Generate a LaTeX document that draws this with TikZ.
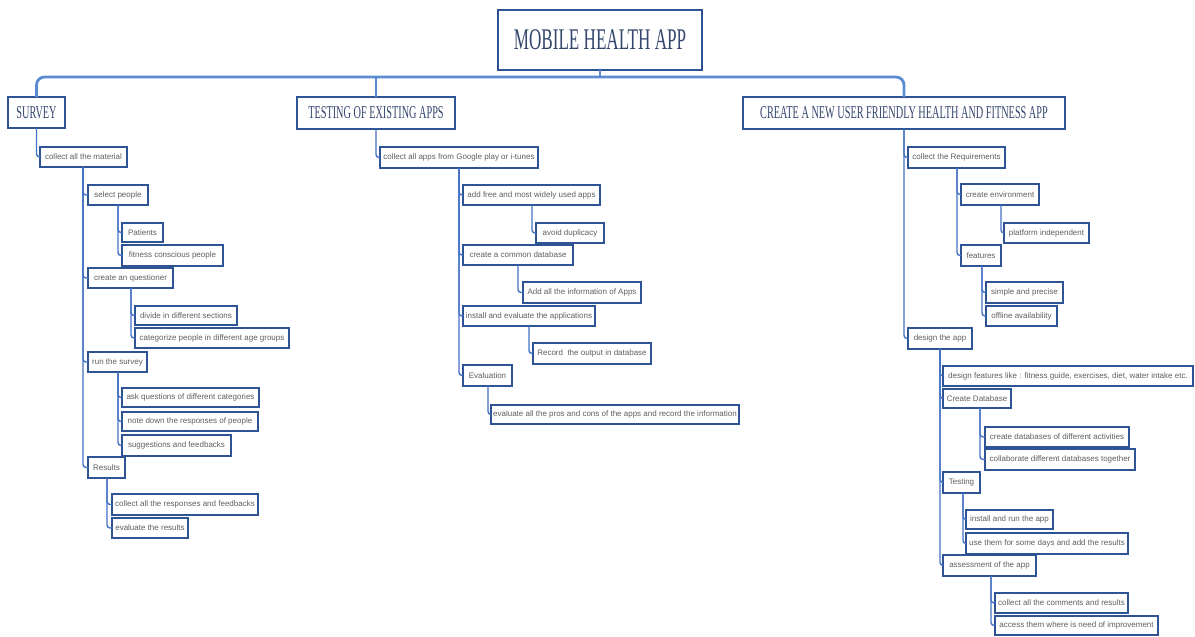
\documentclass[tikz,border=0pt]{standalone}
\usepackage{fontspec}
\setmainfont{Liberation Sans}
\newfontfamily\titlefont[FakeStretch=0.57]{Liberation Serif}
\newfontfamily\leaffont{Liberation Sans}
\definecolor{boxc}{RGB}{47,84,150}
\definecolor{linec}{RGB}{68,114,196}
\definecolor{busc}{RGB}{91,139,208}
\definecolor{titlec}{RGB}{52,70,110}
\definecolor{leafc}{RGB}{95,95,95}
\begin{document}
\begin{tikzpicture}[x=0.5pt,y=-0.5pt,
  sz/.style 2 args={minimum width=#1*0.5pt, minimum height=#2*0.5pt, anchor=north west},
  box/.style={draw=boxc, line width=0.6pt, fill=white, inner sep=0pt, outer sep=0pt},
  rootbox/.style={box, font=\titlefont\fontsize{15}{17}\selectfont, text=titlec},
  topic/.style={box, font=\titlefont\fontsize{9}{11}\selectfont, text=titlec},
  leaf/.style={box, font=\leaffont\fontsize{4}{5}\selectfont, text=leafc},
  conn/.style={draw=linec, line width=0.7pt, rounded corners=1.5pt},
  bus/.style={draw=busc, line width=1.4pt, rounded corners=4pt}]
\useasboundingbox (0,0) rectangle (1195,637);
\fill[white] (0,0) rectangle (1195,637);

% root and topics
\node[rootbox, sz={204}{60}] (root) at (498,10) {MOBILE HEALTH APP};
\node[topic, sz={57}{31}] (survey) at (8,97) {SURVEY};
\node[topic, sz={158}{32}] (testing) at (297,97) {TESTING OF EXISTING APPS};
\node[topic, sz={322}{32}] (create) at (743,97) {CREATE A NEW USER FRIENDLY HEALTH AND FITNESS APP};

% survey branch
\node[leaf, sz={87}{20}] (s1) at (40,147) {collect all the material};
\node[leaf, sz={60}{20}] (s11) at (88,185) {select people};
\node[leaf, sz={41}{19}] (s111) at (122,223) {Patients};
\node[leaf, sz={101}{21}] (s112) at (122,245) {fitness conscious people};
\node[leaf, sz={85}{20}] (s12) at (88,268) {create an questioner};
\node[leaf, sz={102}{19}] (s121) at (135,306) {divide in different sections};
\node[leaf, sz={154}{20}] (s122) at (135,328) {categorize people in different age groups};
\node[leaf, sz={59}{20}] (s13) at (88,352) {run the survey};
\node[leaf, sz={137}{19}] (s131) at (122,388) {ask questions of different categories};
\node[leaf, sz={136}{19}] (s132) at (122,412) {note down the responses of people};
\node[leaf, sz={109}{21}] (s133) at (122,435) {suggestions and feedbacks};
\node[leaf, sz={37}{21}] (s14) at (88,457) {Results};
\node[leaf, sz={146}{21}] (s141) at (112,494) {collect all the responses and feedbacks};
\node[leaf, sz={76}{20}] (s142) at (112,518) {evaluate the results};

% testing branch
\node[leaf, sz={158}{21}] (t1) at (380,147) {collect all apps from Google play or i-tunes};
\node[leaf, sz={137}{20}] (t11) at (463,185) {add free and most widely used apps};
\node[leaf, sz={68}{20}] (t111) at (536,223) {avoid duplicacy};
\node[leaf, sz={110}{20}] (t12) at (463,245) {create a common database};
\node[leaf, sz={118}{21}] (t121) at (523,282) {Add all the information of Apps};
\node[leaf, sz={132}{20}] (t13) at (463,306) {install and evaluate the applications};
\node[leaf, sz={118}{21}] (t131) at (533,343) {Record\ \ the output in database};
\node[leaf, sz={49}{21}] (t14) at (463,365) {Evaluation};
\node[leaf, sz={248}{19}] (t141) at (491,405) {evaluate all the pros and cons of the apps and record the information};

% create branch
\node[leaf, sz={97}{21}] (c1) at (908,147) {collect the Requirements};
\node[leaf, sz={78}{21}] (c11) at (961,184) {create environment};
\node[leaf, sz={85}{20}] (c111) at (1004,223) {platform independent};
\node[leaf, sz={40}{21}] (c12) at (961,245) {features};
\node[leaf, sz={77}{21}] (c121) at (986,282) {simple and precise};
\node[leaf, sz={71}{20}] (c122) at (986,306) {offline availability};
\node[leaf, sz={64}{21}] (c2) at (908,328) {design the app};
\node[leaf, sz={250}{20}] (c21) at (943,366) {design features like : fitness guide, exercises, diet, water intake etc.};
\node[leaf, sz={68}{19}] (c22) at (943,389) {Create Database};
\node[leaf, sz={144}{20}] (c221) at (985,427) {create databases of different activities};
\node[leaf, sz={150}{21}] (c222) at (985,449) {collaborate different databases together};
\node[leaf, sz={37}{21}] (c23) at (943,472) {Testing};
\node[leaf, sz={87}{19}] (c231) at (966,510) {install and run the app};
\node[leaf, sz={162}{21}] (c232) at (966,533) {use them for some days and add the results};
\node[leaf, sz={93}{21}] (c24) at (943,555) {assessment of the app};
\node[leaf, sz={133}{20}] (c241) at (995,593) {collect all the comments and results};
\node[leaf, sz={163}{19}] (c242) at (995,616) {access them where is need of improvement};

% bus
\draw[bus] (survey.north) -- ++(0,-20) -| (create.north);
\draw[bus] (testing.north) -- ++(0,-20);
\draw[bus] (root.south) -- ++(0,7);

% survey connectors
\draw[conn] (survey.south) |- (s1.west);
\foreach \c in {s11,s12,s13,s14} \draw[conn] (s1.south west) ++(43,0) |- (\c.west);
\foreach \c in {s111,s112} \draw[conn] (s11.south west) ++(30,0) |- (\c.west);
\foreach \c in {s121,s122} \draw[conn] (s12.south west) ++(43,0) |- (\c.west);
\foreach \c in {s131,s132,s133} \draw[conn] (s13.south west) ++(30,0) |- (\c.west);
\foreach \c in {s141,s142} \draw[conn] (s14.south west) ++(19,0) |- (\c.west);

% testing connectors
\draw[conn] (testing.south) |- (t1.west);
\foreach \c in {t11,t12,t13,t14} \draw[conn] (t1.south west) ++(79,0) |- (\c.west);
\draw[conn] (t11.south west) ++(69,0) |- (t111.west);
\draw[conn] (t12.south west) ++(55,0) |- (t121.west);
\draw[conn] (t13.south west) ++(66,0) |- (t131.west);
\draw[conn] (t14.south west) ++(25,0) |- (t141.west);

% create connectors
\foreach \c in {c1,c2} \draw[conn] (create.south) |- (\c.west);
\foreach \c in {c11,c12} \draw[conn] (c1.south west) ++(49,0) |- (\c.west);
\draw[conn] (c11.south west) ++(40,0) |- (c111.west);
\foreach \c in {c121,c122} \draw[conn] (c12.south west) ++(21,0) |- (\c.west);
\foreach \c in {c21,c22,c23,c24} \draw[conn] (c2.south west) ++(32,0) |- (\c.west);
\foreach \c in {c221,c222} \draw[conn] (c22.south west) ++(37,0) |- (\c.west);
\foreach \c in {c231,c232} \draw[conn] (c23.south west) ++(20,0) |- (\c.west);
\foreach \c in {c241,c242} \draw[conn] (c24.south west) ++(48,0) |- (\c.west);
\end{tikzpicture}
\end{document}
